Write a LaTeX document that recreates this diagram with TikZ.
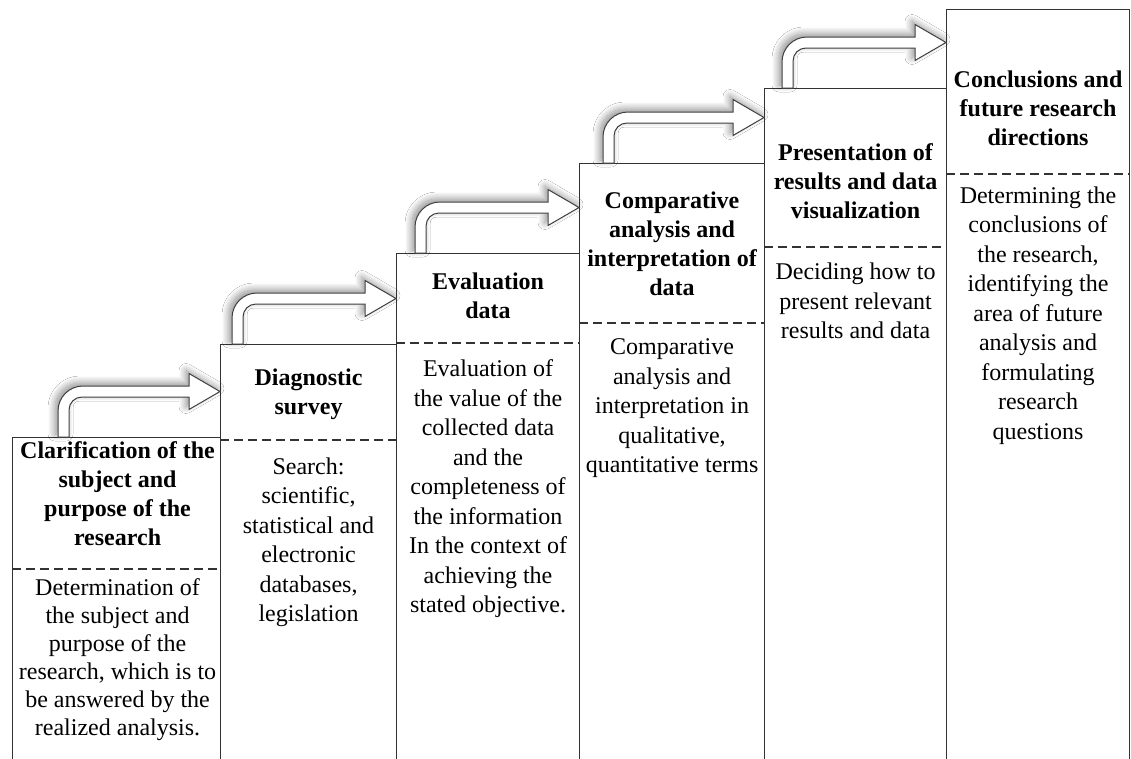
\documentclass[tikz,border=0pt]{standalone}
\usepackage{fontspec}
\setmainfont{Liberation Serif}
\usetikzlibrary{calc,shadows.blur}
\tikzset{
  colbox/.style={draw=black!80, line width=1.1pt, fill=white, anchor=north west, inner sep=0pt, rectangle},
  divider/.style={draw=black!80, line width=1.1pt, dash pattern=on 9pt off 5pt},
  headtxt/.style={font=\fontsize{24}{29}\selectfont\bfseries, align=center, inner sep=0pt, text=black},
  bodytxt/.style={font=\fontsize{24}{29.5}\selectfont, align=center, inner sep=0pt, text=black},
  arrowshape/.style={fill=white, draw=black!75, line width=1pt, line join=miter,
    blur shadow={shadow xshift=-3pt, shadow yshift=3pt, shadow blur radius=7pt, shadow blur steps=12, shadow opacity=45}},
}
% bent arrow from the top of node #1 to the left side of node #2, stem offset #3 (pt)
\newcommand\bentarrow[3]{%
  \path[arrowshape] let \p1=(#1.north west), \p2=(#2.north west) in
    (\x1+#3pt, \y1) -- (\x1+#3pt, \y1+26pt)
    .. controls (\x1+#3pt, \y1+39.8pt) and (\x1+#3pt+11.2pt, \y1+51pt) .. (\x1+#3pt+25pt, \y1+51pt)
    -- (\x2-31pt, \y1+51pt) -- (\x2-31pt, \y1+63.5pt) -- (\x2, \y1+45.5pt) -- (\x2-31pt, \y1+27.5pt)
    -- (\x2-31pt, \y1+40pt) -- (\x1+#3pt+24pt, \y1+40pt)
    .. controls (\x1+#3pt+16.8pt, \y1+40pt) and (\x1+#3pt+11pt, \y1+34.2pt) .. (\x1+#3pt+11pt, \y1+27pt)
    -- (\x1+#3pt+11pt, \y1) -- cycle;%
}
\begin{document}
\begin{tikzpicture}[x=1pt, y=-1pt]
\clip (0,0) rectangle (1131,758);
\fill[white] (0,0) rectangle (1131,758);

% columns
\node[colbox, minimum width=208pt, minimum height=400pt] (c1) at (12,437) {};
\node[colbox, minimum width=176pt, minimum height=480pt] (c2) at (220,344) {};
\node[colbox, minimum width=183pt, minimum height=560pt] (c3) at (396,253) {};
\node[colbox, minimum width=185pt, minimum height=660pt] (c4) at (579,163) {};
\node[colbox, minimum width=182pt, minimum height=720pt] (c5) at (764,88) {};
\node[colbox, minimum width=183pt, minimum height=800pt] (c6) at (946,9) {};

% dividers
\draw[divider] ($(c1.north west)+(0,132)$) -- ($(c1.north east)+(0,132)$);
\draw[divider] ($(c2.north west)+(0,96)$) -- ($(c2.north east)+(0,96)$);
\draw[divider] ($(c3.north west)+(0,90)$) -- ($(c3.north east)+(0,90)$);
\draw[divider] ($(c4.north west)+(0,160)$) -- ($(c4.north east)+(0,160)$);
\draw[divider] ($(c5.north west)+(0,159)$) -- ($(c5.north east)+(0,159)$);
\draw[divider] ($(c6.north west)+(0,165)$) -- ($(c6.north east)+(0,165)$);

% arrows
\bentarrow{c1}{c2}{46}
\bentarrow{c2}{c3}{12}
\bentarrow{c3}{c4}{19}
\bentarrow{c4}{c5}{24}
\bentarrow{c5}{c6}{18}

% texts
\node[headtxt] (h1) at ($(c1.north)+(1,57)$) {Clarification of the\\subject and\\purpose of the\\research};
\node[bodytxt, font=\fontsize{24}{28}\selectfont] (b1) at ($(c1.north)+(1,223)$) {Determination of\\the subject and\\purpose of the\\research, which is to\\be answered by the\\realized analysis.};

\node[headtxt] (h2) at ($(c2.north)+(0,50)$) {Diagnostic\\survey};
\node[bodytxt] (b2) at ($(c2.north)+(0,198.5)$) {Search:\\scientific,\\statistical and\\electronic\\databases,\\legislation};

\node[headtxt] (h3) at ($(c3.north)+(0,43)$) {Evaluation\\data};
\node[bodytxt] (b3) at ($(c3.north)+(0,236)$) {Evaluation of\\the value of the\\collected data\\and the\\completeness of\\the information\\In the context of\\achieving the\\stated objective.};

\node[headtxt] (h4) at ($(c4.north)+(0,80.5)$) {Comparative\\analysis and\\interpretation of\\data};
\node[bodytxt] (b4) at ($(c4.north)+(0,245.5)$) {Comparative\\analysis and\\interpretation in\\qualitative,\\quantitative terms};

\node[headtxt] (h5) at ($(c5.north)+(0,93.5)$) {Presentation of\\results and data\\visualization};
\node[bodytxt] (b5) at ($(c5.north)+(0,213)$) {Deciding how to\\present relevant\\results and data};

\node[headtxt] (h6) at ($(c6.north)+(0,99.5)$) {Conclusions and\\future research\\directions};
\node[bodytxt] (b6) at ($(c6.north)+(0,306.5)$) {Determining the\\conclusions of\\the research,\\identifying the\\area of future\\analysis and\\formulating\\research\\questions};
\end{tikzpicture}
\end{document}
